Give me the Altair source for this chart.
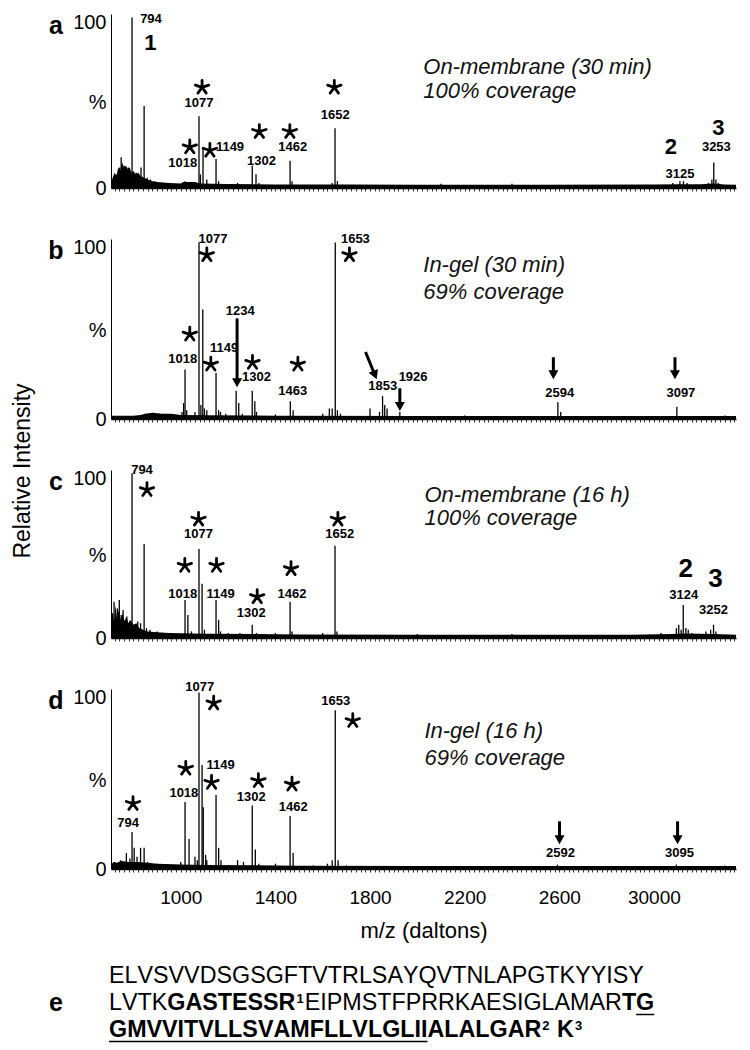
import math
import altair as alt
import pandas as pd

FONT = "Liberation Sans"
MZ_DOMAIN = [705, 3347]
Y_DOMAIN = [0, 102]
PANEL_W = 625
X_MINOR_STEP = 20
X_TICK_VALUES = [1000, 1400, 1800, 2200, 2600, 3000]
X_TICK_LABELS = ["1000", "1400", "1800", "2200", "2600", "30000"]
Y_TICK_VALUES = [0, 50, 97]
Y_TICK_LABELS = ["0", "%", "100"]
X_TITLE = "m/z (daltons)"
Y_TITLE = "Relative Intensity"

# ---------------- panel a ----------------
A_PEAKS = [(718, 6), (726, 8), (735, 9), (742, 12), (748, 18), (755, 11), (762, 13), (770, 10),
           (778, 12), (786, 9), (794, 100), (802, 8), (812, 9), (822, 7), (832, 12), (845, 48),
           (858, 6), (872, 5), (890, 4), (915, 3), (1018, 4), (1040, 3), (1077, 42), (1083, 8),
           (1094, 23), (1110, 5), (1149, 17), (1160, 4), (1240, 3), (1302, 13), (1318, 8),
           (1330, 3), (1462, 16), (1470, 4), (1640, 3), (1652, 35), (1662, 4), (2100, 2.5),
           (2400, 2.5), (3080, 3), (3110, 4), (3125, 4), (3140, 3), (3230, 3), (3245, 5),
           (3253, 15), (3262, 5), (3272, 3)]
A_NOISE = [(705, 3), (712, 6), (720, 9), (728, 7), (736, 12), (744, 10), (752, 15), (760, 12),
           (768, 13), (776, 11), (784, 12), (792, 9), (800, 10), (810, 8), (820, 9), (830, 7),
           (845, 6), (860, 5), (880, 4), (900, 3.5), (950, 3), (1000, 2.6), (1010, 3.5),
           (1060, 3.5), (1080, 2.6), (1200, 2.3), (1400, 2.1), (1700, 2), (2000, 1.9),
           (2500, 1.9), (3000, 2), (3100, 2.2), (3200, 2.2), (3250, 2.6), (3300, 2), (3347, 1.9)]
A_LABELS = [("794", 874, 99), ("1077", 1077, 50), ("1018", 1008, 14.6), ("1149", 1208, 24),
            ("1302", 1341, 16), ("1462", 1473, 24), ("1652", 1653, 43), ("3125", 3110, 8),
            ("3253", 3264, 24)]
A_STARS = [(1038, 24), (1090, 59), (1123, 22), (1332, 33), (1461, 33), (1649, 59)]
A_BIG = [("1", 871, 85), ("2", 3072, 24), ("3", 3273, 35)]
A_NOTES = [("On-membrane (30 min)", 2025, 71), ("100% coverage", 2025, 57)]
A_ARROWS = []

# ---------------- panel b ----------------
B_PEAKS = [(850, 3), (880, 3.5), (910, 3), (950, 2.5), (1005, 4), (1012, 9), (1018, 28), (1025, 5),
           (1060, 4), (1077, 100), (1085, 8), (1093, 62), (1100, 6), (1110, 5), (1149, 26),
           (1160, 5), (1168, 4), (1190, 3), (1234, 16), (1245, 9), (1260, 3), (1302, 16),
           (1313, 10), (1320, 4), (1400, 2.5), (1463, 10), (1475, 5), (1600, 3), (1628, 6),
           (1640, 6), (1653, 100), (1662, 5), (1675, 3), (1800, 6), (1840, 4), (1853, 13),
           (1862, 8), (1872, 6), (1926, 4), (2200, 2), (2594, 9.5), (2606, 4), (3097, 7), (3300, 2)]
B_NOISE = [(705, 1.8), (800, 1.8), (830, 2.2), (850, 3), (880, 3.5), (920, 3), (960, 3),
           (1000, 2.2), (1100, 2.1), (1400, 1.9), (2000, 1.7), (3347, 1.7)]
B_LABELS = [("1077", 1136, 102), ("1653", 1738, 102), ("1018", 1008, 34), ("1149", 1183, 40),
            ("1234", 1251, 61), ("1302", 1320, 23.6), ("1463", 1473, 16), ("1853", 1854, 18.5),
            ("1926", 1982, 23.6), ("2594", 2602, 14.6), ("3097", 3114, 14.6)]
B_STARS = [(1110, 93), (1713, 93), (1038, 48), (1127, 31), (1303, 32), (1495, 31)]
B_BIG = []
B_NOTES = [("In-gel (30 min)", 2025, 87), ("69% coverage", 2025, 72)]
B_ARROWS = [(1238, 57, 1238, 18), (1781, 38, 1828, 22.5), (1926, 17.4, 1926, 4.5),
            (2575, 35, 2575, 22.5), (3089, 35, 3089, 22.5)]

# ---------------- panel c ----------------
C_PEAKS = [(712, 15), (718, 22), (725, 12), (732, 18), (740, 23), (748, 14), (756, 17), (765, 11),
           (772, 13), (780, 9), (794, 100), (802, 8), (810, 7), (818, 10), (830, 9), (845, 57),
           (855, 6), (870, 5), (900, 4), (960, 3), (1018, 23), (1030, 14), (1045, 4), (1077, 54),
           (1090, 33), (1100, 5), (1149, 23), (1160, 11), (1168, 4), (1200, 3), (1250, 3),
           (1302, 8), (1320, 3), (1400, 3), (1462, 22), (1470, 4), (1600, 3), (1652, 56),
           (1660, 4), (2000, 2.5), (2400, 2.5), (3030, 3), (3095, 6), (3105, 8), (3115, 5),
           (3124, 20), (3135, 6), (3145, 5), (3160, 3), (3220, 4), (3240, 5), (3252, 8), (3262, 4)]
C_NOISE = [(705, 6), (712, 14), (718, 10), (724, 20), (730, 12), (738, 17), (746, 11), (754, 15),
           (762, 10), (770, 13), (778, 9), (786, 11), (800, 8), (812, 9), (824, 6), (840, 5),
           (860, 4), (900, 3.5), (950, 3), (1100, 2.6), (1500, 2.2), (2000, 2), (2900, 2),
           (3080, 2.4), (3130, 2.8), (3250, 2.4), (3347, 2)]
C_LABELS = [("794", 836, 102), ("1077", 1075, 63), ("1018", 1008, 27), ("1149", 1168, 27),
            ("1302", 1298, 15), ("1462", 1470, 27), ("1652", 1672, 63), ("3124", 3126, 26),
            ("3252", 3252, 17)]
C_STARS = [(857, 90), (1075, 72), (1017, 44), (1151, 44), (1323, 25), (1466, 42), (1664, 72)]
C_BIG = [("2", 3134, 42), ("3", 3260, 36)]
C_NOTES = [("On-membrane (16 h)", 2030, 87), ("100% coverage", 2030, 73)]
C_ARROWS = []

# ---------------- panel d ----------------
D_PEAKS = [(720, 4), (745, 5), (770, 9), (785, 6), (794, 21), (803, 12), (815, 7), (830, 12),
           (845, 12), (860, 4), (900, 3), (1000, 4), (1018, 38), (1035, 17), (1060, 7), (1070, 5),
           (1077, 100), (1090, 59), (1095, 35), (1105, 8), (1110, 5), (1149, 42), (1160, 12),
           (1170, 5), (1240, 5), (1265, 4), (1302, 36), (1315, 11), (1330, 3), (1400, 3),
           (1462, 30), (1475, 9), (1560, 2), (1620, 3), (1640, 5), (1653, 90), (1665, 5),
           (1700, 2), (2592, 2.5), (3095, 2.5), (3300, 2)]
D_NOISE = [(705, 2.2), (715, 4), (730, 3.5), (750, 4.5), (780, 4), (820, 4), (860, 3.5), (900, 3),
           (1000, 2.6), (1100, 2.3), (1500, 1.9), (2000, 1.7), (3347, 1.7)]
D_LABELS = [("1077", 1080, 103), ("1653", 1655, 95), ("794", 777, 26), ("1018", 1013, 43),
            ("1149", 1168, 59), ("1302", 1298, 41), ("1462", 1475, 35), ("2592", 2605, 9),
            ("3095", 3108, 9)]
D_STARS = [(1139, 94), (1727, 84), (798, 37), (1021, 57), (1130, 49), (1328, 50), (1470, 48)]
D_BIG = []
D_NOTES = [("In-gel (16 h)", 2030, 78), ("69% coverage", 2030, 63)]
D_ARROWS = [(2601, 27, 2601, 14), (3100, 27, 3100, 14)]

# ---------------- panel e (sequence) ----------------
SEQ_LINE1 = [("ELVSVVDSGSGFTVTRLSAYQVTNLAPGTKYYISY", "regular")]
SEQ_LINE2 = [("LVTK", "regular"), ("GASTESSR", "bold"), ("1", "sup"),
             ("EIPMSTFPRRKAESIGLAMAR", "regular"), ("T", "bold"), ("G", "bold_u")]
SEQ_LINE3 = [("GMVVITVLLSVAMFLLVLGLII", "bold_u"), ("ALALGAR", "bold"), ("2", "sup"),
             (" K", "bold"), ("3", "sup")]
PANEL_LETTER_E = "e"

STAR_PATH = "M0,0L0,-1M0,0L0.95,-0.31M0,0L-0.95,-0.31M0,0L0.59,0.81M0,0L-0.59,0.81"
HEAD_PATH = "M0,0L-1,-1.8L1,-1.8Z"

W_REG = dict(A=667, B=667, C=722, D=722, E=667, F=611, G=778, H=722, I=278, J=500, K=667, L=556,
             M=833, N=722, O=778, P=667, Q=778, R=722, S=667, T=611, U=722, V=667, W=944, X=667,
             Y=667, Z=611)
W_BOLD = dict(A=722, B=722, C=722, D=722, E=667, F=611, G=778, H=722, I=278, J=556, K=722, L=611,
              M=833, N=722, O=778, P=667, Q=778, R=722, S=667, T=611, U=722, V=667, W=944, X=667,
              Y=667, Z=611)


def char_width(ch, bold, fs):
    table = W_BOLD if bold else W_REG
    if ch.isdigit():
        w = 556
    elif ch == " ":
        w = 278
    else:
        w = table.get(ch, 600)
    return w * fs / 1000.0


def expr_map(values, labels):
    s = "''"
    for v, l in reversed(list(zip(values, labels))):
        s = f"datum.value == {v} ? '{l}' : ({s})"
    return s


xs = alt.Scale(domain=MZ_DOMAIN, nice=False, zero=False)
ys = alt.Scale(domain=Y_DOMAIN, nice=False, zero=False)


def x_axis(show):
    kw = dict(values=list(range(720, MZ_DOMAIN[1], X_MINOR_STEP)), tickSize=3, tickWidth=0.8,
              tickColor="black", domainColor="black", domainWidth=1.3, grid=False,
              labelOverlap=False)
    if show:
        kw.update(labelExpr=expr_map(X_TICK_VALUES, X_TICK_LABELS), labelFontSize=19,
                  labelPadding=16, labelColor="black", labelFont=FONT, labelFlush=False,
                  titleFontSize=22, titleFontWeight="normal", titlePadding=13,
                  titleColor="black", titleFont=FONT)
    else:
        kw.update(labels=False)
    return alt.Axis(**kw)


y_axis = alt.Axis(values=Y_TICK_VALUES, labelExpr=expr_map(Y_TICK_VALUES, Y_TICK_LABELS),
                  ticks=False, domainColor="black", domainWidth=1, grid=False, labelFontSize=20,
                  labelPadding=5, labelColor="black", labelFont=FONT)


def make_panel(letter, height, peaks, noise, labels, stars, bigs, big_size, notes, arrows,
               show_x, extra=None):
    xax = x_axis(show_x)
    xtitle = X_TITLE if show_x else None
    X = alt.X("mz:Q", scale=xs, axis=xax, title=xtitle)
    Y = alt.Y("v:Q", scale=ys, axis=y_axis, title=None)

    nz = pd.DataFrame(noise, columns=["mz", "v"])
    pk = pd.DataFrame(peaks, columns=["mz", "v"])
    pk["v0"] = 0
    lb = pd.DataFrame(labels, columns=["t", "mz", "v"])
    st = pd.DataFrame(stars, columns=["mz", "v"])
    nt = pd.DataFrame(notes, columns=["t", "mz", "v"])
    lt = pd.DataFrame({"t": [letter], "v": [95]})

    layers = [
        alt.Chart(nz).mark_area(color="black", opacity=1, interpolate="linear").encode(x=X, y=Y),
        alt.Chart(pk).mark_rule(color="black", strokeWidth=1.3).encode(x=X, y=Y, y2="v0:Q"),
        alt.Chart(lb).mark_text(font=FONT, fontSize=13, fontWeight="bold", color="black")
        .encode(x=X, y=Y, text="t:N"),
        alt.Chart(st).mark_point(shape=STAR_PATH, filled=False, size=200, strokeWidth=2.8,
                                 color="black", opacity=1, strokeCap="round").encode(x=X, y=Y),
        alt.Chart(nt).mark_text(font=FONT, fontSize=22, fontStyle="italic", align="left",
                                color="#111111").encode(x=X, y=Y, text="t:N"),
        alt.Chart(lt).mark_text(font=FONT, fontSize=25, fontWeight="bold", color="black")
        .encode(x=alt.value(-55), y=Y, text="t:N"),
    ]
    if bigs:
        bg = pd.DataFrame(bigs, columns=["t", "mz", "v"])
        layers.append(alt.Chart(bg).mark_text(font=FONT, fontSize=big_size, fontWeight="bold",
                                              color="black").encode(x=X, y=Y, text="t:N"))
    if arrows:
        sx = PANEL_W / (MZ_DOMAIN[1] - MZ_DOMAIN[0])
        sy = height / (Y_DOMAIN[1] - Y_DOMAIN[0])
        rows = []
        for x1, y1, x2, y2 in arrows:
            dx = (x2 - x1) * sx
            dy = (y1 - y2) * sy
            L = math.hypot(dx, dy)
            ux, uy = dx / L, dy / L
            back = 6.0
            rows.append(dict(mz=x1, v=y1, mzs=x2 - ux * back / sx, vs=y2 + uy * back / sy,
                             mz2=x2, v2=y2, ang=math.degrees(math.atan2(-dx, dy)) % 360))
        ar = pd.DataFrame(rows)
        layers.append(alt.Chart(ar).mark_rule(color="black", strokeWidth=3)
                      .encode(x=X, y=Y, x2="mzs:Q", y2="vs:Q"))
        layers.append(alt.Chart(ar).mark_point(shape=HEAD_PATH, filled=True, size=100,
                                               color="black", opacity=1)
                      .encode(x=alt.X("mz2:Q", scale=xs, axis=xax, title=xtitle),
                              y=alt.Y("v2:Q", scale=ys, axis=y_axis, title=None),
                              angle=alt.Angle("ang:Q", scale=None)))
    if extra is not None:
        layers.append(extra)
    return alt.layer(*layers).properties(width=PANEL_W, height=height)


ytitle = alt.Chart(pd.DataFrame({"t": [Y_TITLE]})).mark_text(
    font=FONT, fontSize=23, angle=270, color="black").encode(
    x=alt.value(-88), y=alt.value(1), text="t:N")

pa = make_panel("a", 174, A_PEAKS, A_NOISE, A_LABELS, A_STARS, A_BIG, 22, A_NOTES, A_ARROWS,
                False)
pb = make_panel("b", 180, B_PEAKS, B_NOISE, B_LABELS, B_STARS, B_BIG, 22, B_NOTES, B_ARROWS,
                False)
pc = make_panel("c", 168, C_PEAKS, C_NOISE, C_LABELS, C_STARS, C_BIG, 26, C_NOTES, C_ARROWS,
                False, extra=ytitle)
pd_ = make_panel("d", 180, D_PEAKS, D_NOISE, D_LABELS, D_STARS, D_BIG, 22, D_NOTES, D_ARROWS,
                 True)

# sequence panel: one text item per character, so spacing follows the width tables exactly
SEQ_FS = 23.3
SUP_FS = 13
SEQ_X0 = -2
SEQ_LINE_Y = [56, 83, 110]
rows = []
ul = []
for line_y, parts in zip(SEQ_LINE_Y, [SEQ_LINE1, SEQ_LINE2, SEQ_LINE3]):
    x = SEQ_X0
    for text, style in parts:
        if style == "sup":
            for ch in text:
                rows.append(dict(t=ch, px=x + 1.0, py=line_y - 4, fs=SUP_FS, w="bold"))
                x += char_width(ch, True, SUP_FS) + 2.0
            continue
        bold = style.startswith("bold")
        start = x
        for ch in text:
            if ch != " ":
                rows.append(dict(t=ch, px=x, py=line_y, fs=SEQ_FS,
                                 w="bold" if bold else "normal"))
            x += char_width(ch, bold, SEQ_FS)
        if style.endswith("_u"):
            ul.append(dict(px=start, px2=x, py=line_y + 11.5))
rows.append(dict(t=PANEL_LETTER_E, px=-62, py=SEQ_LINE_Y[1], fs=25, w="bold"))
seq_df = pd.DataFrame(rows)
ul_df = pd.DataFrame(ul)

PX = alt.X("px:Q", scale=None, axis=None)
PY = alt.Y("py:Q", scale=None, axis=None)
seq_base = alt.Chart(seq_df).encode(x=PX, y=PY, text="t:N", size=alt.Size("fs:Q", scale=None))
seq_reg = seq_base.transform_filter(alt.datum.w == "normal").mark_text(
    font=FONT, align="left", baseline="middle", color="black")
seq_bold = seq_base.transform_filter(alt.datum.w == "bold").mark_text(
    font=FONT, align="left", baseline="middle", fontWeight="bold", color="black")
seq_ul = alt.Chart(ul_df).mark_rule(color="black", strokeWidth=1.5).encode(
    x=PX, x2="px2:Q", y=PY)
pe = alt.layer(seq_reg, seq_bold, seq_ul).properties(width=PANEL_W, height=122)

chart = alt.vconcat(pa, pb, pc, pd_, pe, spacing=51, bounds="flush").properties(
    padding={"left": 3, "top": 4, "right": 5, "bottom": 0}
).configure(font=FONT).configure_view(stroke=None)

chart.save("out.html", embed_options={"renderer": "svg", "actions": False})
